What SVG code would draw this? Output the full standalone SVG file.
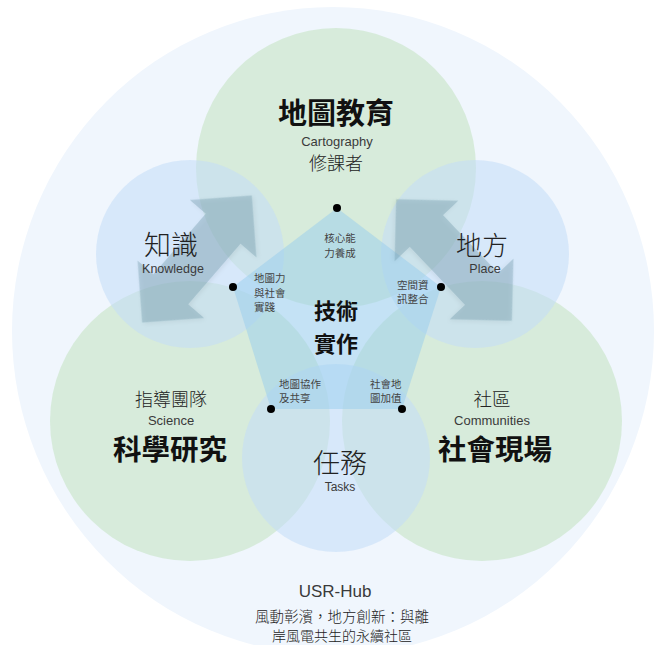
<svg xmlns="http://www.w3.org/2000/svg" width="655" height="645" viewBox="0 0 655 645">
  <style>
    .bg { fill: #f0f6fd; }
    .green { fill: #c5e3c3; fill-opacity: 0.58; }
    .blue { fill: #c2dcf7; fill-opacity: 0.55; }
    .penta { fill: #98cdee; fill-opacity: 0.5; }
    .arrow { fill: #6a93a3; fill-opacity: 0.34; }
    .dot { fill: #000; }
    .title { font-family: "Liberation Sans", "Noto Sans CJK TC", sans-serif; font-weight: bold; fill: #111; text-anchor: middle; }
    .thin { font-family: "Liberation Sans", "Noto Sans CJK TC", sans-serif; font-weight: 300; fill: #222; text-anchor: middle; }
    .en { font-family: "Liberation Sans", "Noto Sans CJK TC", sans-serif; fill: #3a3a3a; text-anchor: middle; }
    .small { font-family: "Liberation Sans", "Noto Sans CJK TC", sans-serif; font-size: 10.5px; fill: #444; }
  </style>
  <defs>
    <path id="dblArrow" d="M84,0 L40,-44 L40,-23 L-40,-23 L-40,-44 L-84,0 L-40,44 L-40,23 L40,23 L40,44 Z"/>
    <filter id="shadow" x="-30%" y="-30%" width="160%" height="160%">
      <feGaussianBlur in="SourceAlpha" stdDeviation="2.5"/>
      <feOffset dx="0" dy="2" result="b"/>
      <feComponentTransfer><feFuncA type="linear" slope="0.2"/></feComponentTransfer>
      <feMerge><feMergeNode/><feMergeNode in="SourceGraphic"/></feMerge>
    </filter>
  </defs>

  <g id="hub">
    <ellipse class="bg" cx="333" cy="331" rx="321" ry="324"/>
    <text class="en" x="335" y="597" font-size="17">USR-Hub</text>
    <text class="thin" x="342" y="622" font-size="14.5" font-family="'Noto Sans CJK TC', sans-serif">風動彰濱，地方創新：與離</text>
    <text class="thin" x="342" y="641" font-size="14" font-family="'Noto Sans CJK TC', sans-serif">岸風電共生的永續社區</text>
  </g>

  <g id="circles">
    <circle id="c-cartography" class="green" cx="336" cy="168" r="140"/>
    <circle id="c-science" class="green" cx="190" cy="421" r="140"/>
    <circle id="c-communities" class="green" cx="482" cy="421" r="140"/>
    <circle id="c-knowledge" class="blue" cx="190" cy="254" r="94"/>
    <circle id="c-place" class="blue" cx="475" cy="254" r="94"/>
    <circle id="c-tasks" class="blue" cx="336" cy="458" r="94"/>
  </g>

  <g id="core">
    <polygon class="penta" points="337,208 441,287 402,409 271,409 233,287"/>
  </g>

  <g id="connectors">
    <use href="#dblArrow" class="arrow" filter="url(#shadow)" transform="translate(197,259) rotate(-49.2)"/>
    <use href="#dblArrow" class="arrow" filter="url(#shadow)" transform="translate(454,260) rotate(46.4)"/>
  </g>

  <g id="node-cartography">
    <text class="title" x="336" y="124" font-size="29">地圖教育</text>
    <text class="en" x="337" y="146" font-size="13">Cartography</text>
    <text class="thin" x="336" y="170" font-size="18">修課者</text>
  </g>

  <g id="node-knowledge">
    <text class="thin" x="171" y="255" font-size="27">知識</text>
    <text class="en" x="173" y="273" font-size="12.5">Knowledge</text>
  </g>

  <g id="node-place">
    <text class="thin" x="482" y="255" font-size="26">地方</text>
    <text class="en" x="485" y="273" font-size="12.5">Place</text>
  </g>

  <g id="node-science">
    <text class="thin" x="171" y="406" font-size="18">指導團隊</text>
    <text class="en" x="171" y="425" font-size="13">Science</text>
    <text class="title" x="170" y="460" font-size="28.5">科學研究</text>
  </g>

  <g id="node-communities">
    <text class="thin" x="492" y="406" font-size="18.5">社區</text>
    <text class="en" x="492" y="425" font-size="13">Communities</text>
    <text class="title" x="495" y="460" font-size="28.5">社會現場</text>
  </g>

  <g id="node-tasks">
    <text class="thin" x="340" y="473" font-size="27">任務</text>
    <text class="en" x="340" y="491" font-size="12">Tasks</text>
  </g>

  <g id="node-practice">
    <text class="title" x="336" y="319" font-size="22">技術</text>
    <text class="title" x="336" y="352" font-size="22">實作</text>
  </g>

  <g id="v-top">
    <circle class="dot" cx="337" cy="208" r="4"/>
    <text class="small" x="340" y="242" text-anchor="middle">核心能</text>
    <text class="small" x="340" y="257" text-anchor="middle">力養成</text>
  </g>
  <g id="v-left">
    <circle class="dot" cx="233" cy="287" r="4"/>
    <text class="small" x="254" y="282">地圖力</text>
    <text class="small" x="254" y="296.5">與社會</text>
    <text class="small" x="254" y="311">實踐</text>
  </g>
  <g id="v-right">
    <circle class="dot" cx="441" cy="287" r="4"/>
    <text class="small" x="397" y="289">空間資</text>
    <text class="small" x="397" y="303">訊整合</text>
  </g>
  <g id="v-bottom-left">
    <circle class="dot" cx="271" cy="409" r="4"/>
    <text class="small" x="279" y="388">地圖協作</text>
    <text class="small" x="279" y="402">及共享</text>
  </g>
  <g id="v-bottom-right">
    <circle class="dot" cx="402" cy="409" r="4"/>
    <text class="small" x="370" y="388">社會地</text>
    <text class="small" x="370" y="402">圖加值</text>
  </g>
</svg>
